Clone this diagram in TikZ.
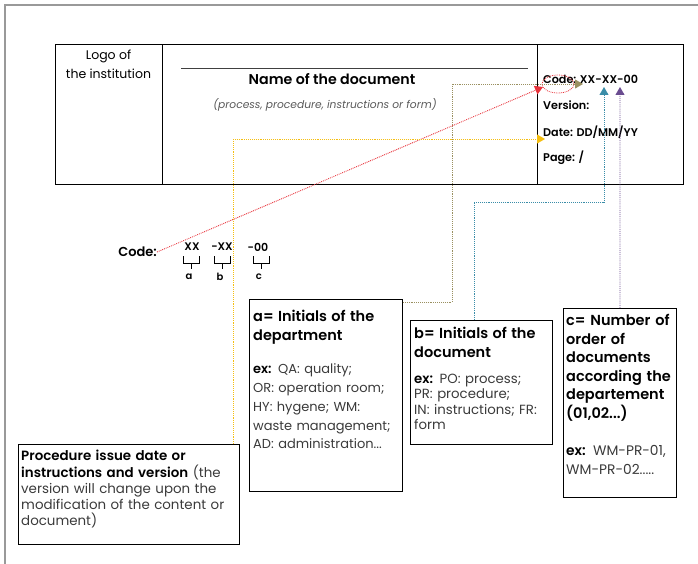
\documentclass[tikz,border=0pt]{standalone}
\usepackage{fontspec}
\setmainfont{Poppins}[BoldFont={* SemiBold},ItalicFont={* Italic}]
\usetikzlibrary{positioning,arrows.meta}
\definecolor{lnred}{HTML}{E8343C}
\definecolor{lnolive}{HTML}{9A9060}
\definecolor{lnyellow}{HTML}{F5BE10}
\definecolor{lnteal}{HTML}{3A8DA8}
\definecolor{lnpurple}{HTML}{6A4C90}
\definecolor{bodygray}{HTML}{3A3A3A}

\begin{document}
\begin{tikzpicture}[x=1pt,y=-1pt,
  >={Triangle[length=8pt,width=9pt]},
  cell/.style={draw,line width=1.2pt,anchor=north west,inner sep=0pt},
  frame/.style={draw,line width=0.9pt,anchor=north west,inner sep=0pt},
  txt/.style={anchor=north west,align=left,inner sep=0pt,text=bodygray},
  hd/.style={anchor=west,inner sep=0pt,font=\fontsize{11.2}{13}\selectfont\bfseries},
  link/.style={densely dotted,line width=0.9pt}]
\useasboundingbox (0,0) rectangle (698,564);
\draw[gray!80,line width=1.3pt] (5,564) -- (5,5) -- (698,5);

% header
\node[cell,minimum width=107pt,minimum height=140pt] (logo) at (55,44) {};
\node[cell,minimum width=375pt,minimum height=140pt] (title) at (162,44) {};
\node[cell,minimum width=146pt,minimum height=140pt] (info) at (537,44) {};
\node[align=center,anchor=north,inner sep=0pt,font=\fontsize{12.5}{19}\selectfont] (logotxt) at (108.5,50) {Logo of\\the institution};
\draw[line width=1pt,black!75] (181,69) -- (528,69);
\node[font=\fontsize{14.2}{16}\selectfont\bfseries] (docname) at (332,79) {Name of the document};
\node[font=\fontsize{10.7}{12}\selectfont\itshape,text=black!65] (docsub) at (325,105) {(process, procedure, instructions or form)};
\node[hd] (code) at (543,79) {Code: XX-XX-00};
\node[hd] (version) at (543,105) {Version:};
\node[hd] (date) at (543,132) {Date: DD/MM/YY};
\node[hd] (page) at (543,158) {Page: /};
\draw[lnred,densely dotted,line width=0.8pt] (558,84) ellipse (16pt and 9pt);

% code breakdown
\node[anchor=east,inner sep=0pt,font=\fontsize{13}{15}\selectfont\bfseries] (codelbl) at (157,252) {Code:};
\node[inner sep=0pt,font=\fontsize{11}{12}\selectfont\bfseries] (pa) at (192,247) {XX};
\node[inner sep=0pt,font=\fontsize{11}{12}\selectfont\bfseries] (pb) at (222,247) {-XX};
\node[inner sep=0pt,font=\fontsize{11}{12}\selectfont\bfseries] (pc) at (258,247) {-00};
\foreach \p/\l/\x in {pa/a/191,pb/b/222,pc/c/261}{
  \draw[line width=0.8pt] (\x-8,256) -- (\x-8,263) -- (\x+8,263) -- (\x+8,256)
    (\x,263) -- (\x,269);
  \node[inner sep=0pt,font=\fontsize{10}{12}\selectfont\bfseries] (l\l) at (\x-2,277) {\l};
}

% explanation boxes
\node[frame,minimum width=153pt,minimum height=192pt] (boxa) at (249,299) {};
\node[txt,text width=150pt,font=\fontsize{13}{18.7}\selectfont] (texta) at (253,310) {%
  \textcolor{black}{\fontsize{14.5}{18.7}\selectfont\bfseries a= Initials of the}\\
  \textcolor{black}{\fontsize{14.5}{18.7}\selectfont\bfseries department}\\[15pt]
  \textcolor{black}{\bfseries ex:} QA: quality;\\OR: operation room;\\HY: hygene; WM:\\waste management;\\AD: administration...};

\node[frame,minimum width=142pt,minimum height=124pt] (boxb) at (410,320) {};
\node[txt,text width=140pt,font=\fontsize{13.3}{18.5}\selectfont] (textb) at (414,327) {%
  \textcolor{black}{\fontsize{14.5}{18.5}\selectfont\bfseries b= Initials of the}\\
  \textcolor{black}{\fontsize{14.5}{18.5}\selectfont\bfseries document}\\[8pt]
  \textcolor{black}{\bfseries ex:} PO: process;\\[-3.2pt]PR: procedure;\\[-3.2pt]IN: instructions; FR:\\[-3.2pt]form};

\node[frame,minimum width=113pt,minimum height=189pt] (boxc) at (563,308) {};
\node[txt,text width=112pt,font=\fontsize{14.5}{18.5}\selectfont\bfseries,text=black] (textc) at (566,314) {%
  c= Number of\\order of\\documents\\according the\\departement\\(01,02...)\\[19pt]
  {\fontsize{13.8}{18.5}\selectfont ex: \mdseries\textcolor{bodygray}{WM-PR-01,}}\\
  {\fontsize{13.8}{18.5}\selectfont\mdseries\textcolor{bodygray}{WM-PR-02.....}}};

\node[frame,minimum width=221pt,minimum height=100pt] (boxd) at (18,444) {};
\node[txt,text width=220pt,font=\fontsize{13.4}{16.3}\selectfont] (textd) at (21,450) {%
  \textcolor{black}{\bfseries Procedure issue date or}\\
  \textcolor{black}{\bfseries instructions and version} (the\\version will change upon the\\modification of the content or\\document)};

% connectors
\coordinate (redtip) at (543,87);
\coordinate (olvbend) at (452,84);
\coordinate (olvtip) at (583,84);
\coordinate (yeltip) at (545,139);
\coordinate (tealbend) at (604,202);
\coordinate (tealtip) at (604,87);
\coordinate (purtip) at (620,87);
\draw[link,lnred,->] (codelbl.east) -- (redtip);
\draw[link,lnolive,->] ([yshift=-3pt]boxa.north east) -| (olvbend) -- (olvtip);
\draw[link,lnyellow,->] ([xshift=-6pt]boxd.north east) |- (yeltip);
\draw[link,lnteal,->] ([xshift=-7pt]boxb.north) |- (tealbend) -- (tealtip);
\draw[link,lnpurple,->] (boxc.north) -- (purtip);
\end{tikzpicture}
\end{document}
